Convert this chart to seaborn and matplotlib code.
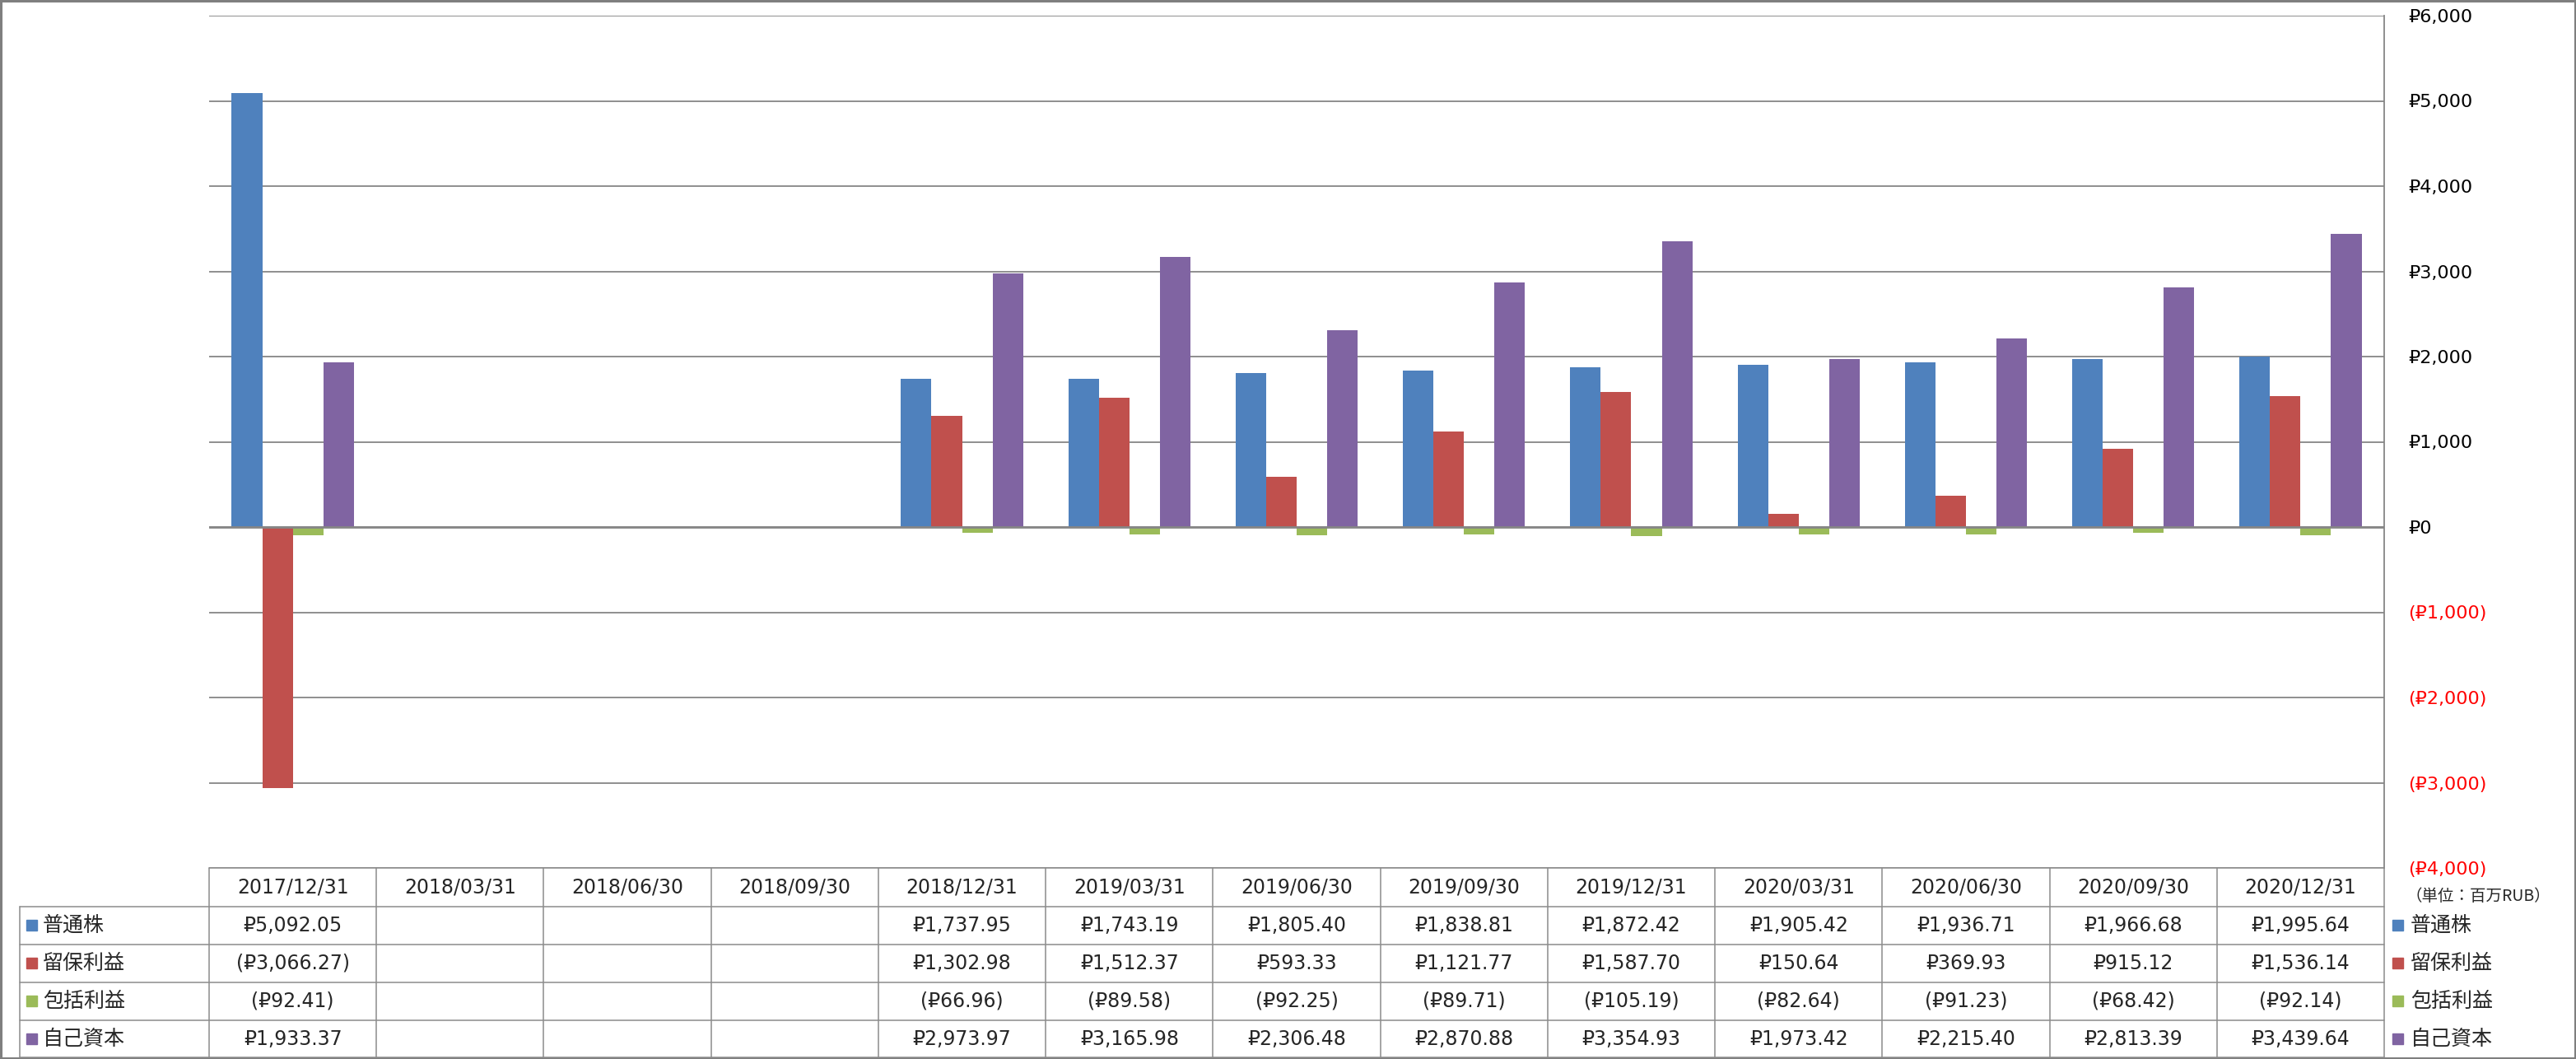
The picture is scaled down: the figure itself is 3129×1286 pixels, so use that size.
import numpy as np
import pandas as pd
import seaborn as sns
import matplotlib.pyplot as plt
from matplotlib.patches import Rectangle

# data (million RUB)
dates = ['2017/12/31', '2018/03/31', '2018/06/30', '2018/09/30', '2018/12/31',
         '2019/03/31', '2019/06/30', '2019/09/30', '2019/12/31', '2020/03/31',
         '2020/06/30', '2020/09/30', '2020/12/31']
series_names = ['普通株', '留保利益', '包括利益', '自己資本']
common_stock = [5092.05, np.nan, np.nan, np.nan, 1737.95, 1743.19, 1805.40,
                1838.81, 1872.42, 1905.42, 1936.71, 1966.68, 1995.64]
retained = [-3066.27, np.nan, np.nan, np.nan, 1302.98, 1512.37, 593.33,
            1121.77, 1587.70, 150.64, 369.93, 915.12, 1536.14]
comprehensive = [-92.41, np.nan, np.nan, np.nan, -66.96, -89.58, -92.25,
                 -89.71, -105.19, -82.64, -91.23, -68.42, -92.14]
equity = [1933.37, np.nan, np.nan, np.nan, 2973.97, 3165.98, 2306.48,
          2870.88, 3354.93, 1973.42, 2215.40, 2813.39, 3439.64]
colors = ['#4F81BD', '#C0504D', '#9BBB59', '#8064A2']
yticks = [-4000, -3000, -2000, -1000, 0, 1000, 2000, 3000, 4000, 5000, 6000]
unit_label = '（単位：百万RUB）'

sns.set_style('white')
plt.rcParams['font.family'] = ['DejaVu Sans', 'Noto Sans', 'Noto Sans CJK JP']

values = [common_stock, retained, comprehensive, equity]
df = pd.DataFrame({
    'date': np.tile(dates, len(series_names)),
    'series': np.repeat(series_names, len(dates)),
    'value': np.concatenate(values),
})

W, H = 3129, 1286
fig = plt.figure(figsize=(W / 100, H / 100), dpi=100)

# plot area in pixels
px_l, px_r, px_t, px_b = 254, 2896, 19, 1054
ax = fig.add_axes([px_l / W, 1 - px_b / H, (px_r - px_l) / W, (px_b - px_t) / H])

sns.barplot(data=df, x='date', y='value', hue='series', order=dates,
            hue_order=series_names, palette=colors, width=0.73, gap=0,
            errorbar=None, saturation=1, legend=False, ax=ax, zorder=3,
            linewidth=0, edgecolor='none')

grid_c = '#868686'
ax.set_ylim(-4000, 6000)
ax.set_xlim(-0.5, len(dates) - 0.5)
ax.set_yticks(yticks)
ax.yaxis.grid(True, color=grid_c, lw=1.3, zorder=0)
ax.axhline(0, color=grid_c, lw=2, zorder=4)
ax.yaxis.tick_right()
ax.tick_params(axis='y', length=0, pad=21, labelsize=16)
ax.tick_params(axis='x', length=0, labelbottom=False)
ax.set_xlabel('')
ax.set_ylabel('')


def money(v, dec=2):
    s = f'₽{abs(v):,.{dec}f}'
    return f'({s})' if v < 0 else s


labels = [money(t, 0) for t in yticks]
ax.set_yticklabels(labels)
for lab, t in zip(ax.get_yticklabels(), yticks):
    lab.set_ha('left')
    lab.set_color('#FF0000' if t < 0 else 'black')

for side in ['left', 'top', 'bottom']:
    ax.spines[side].set_visible(False)
ax.spines['right'].set_color(grid_c)
ax.spines['right'].set_linewidth(1.3)

# overlay in pixel coordinates for the data table, legend and frame
ov = fig.add_axes([0, 0, 1, 1], facecolor='none')
ov.set_xlim(0, W)
ov.set_ylim(H, 0)
ov.axis('off')

line_c = '#8C8C8C'
col_w = (px_r - px_l) / len(dates)
row_y = [1054, 1101, 1147, 1193, 1239, 1284]
label_x0 = 24

# header row
ov.plot([px_l, px_r], [row_y[0], row_y[0]], color=line_c, lw=1.1)
for i in range(len(dates) + 1):
    x = px_l + i * col_w
    ov.plot([x, x], [row_y[0], row_y[-1]], color=line_c, lw=1.1)
for y in row_y[1:]:
    ov.plot([label_x0, px_r], [y, y], color=line_c, lw=1.1)
ov.plot([label_x0, label_x0], [row_y[1], row_y[-1]], color=line_c, lw=1.1)

for i, d in enumerate(dates):
    cx = px_l + (i + 0.5) * col_w
    ov.text(cx, (row_y[0] + row_y[1]) / 2, d, ha='center', va='center',
            fontsize=17)
    for r, vals in enumerate(values):
        v = vals[i]
        if not np.isnan(v):
            ov.text(cx, (row_y[r + 1] + row_y[r + 2]) / 2, money(v),
                    ha='center', va='center', fontsize=17)

for r, name in enumerate(series_names):
    cy = (row_y[r + 1] + row_y[r + 2]) / 2
    # row header with key
    ov.add_patch(Rectangle((32, cy - 7), 13, 13, color=colors[r]))
    ov.text(52, cy, name, ha='left', va='center', fontsize=18,
            family=['Noto Sans CJK JP'])
    # legend on the right
    ov.add_patch(Rectangle((2906, cy - 7), 13, 13, color=colors[r]))
    ov.text(2928, cy, name, ha='left', va='center', fontsize=18,
            family=['Noto Sans CJK JP'])

ov.text(3010, 1089, unit_label, ha='center', va='center', fontsize=14,
        family=['Noto Sans CJK JP', 'DejaVu Sans'])

# outer frame
ov.add_patch(Rectangle((1, 1), W - 2.5, H - 2.5, fill=False, ec='#7F7F7F',
                       lw=2.2))

fig.savefig('out.png', dpi=100)
